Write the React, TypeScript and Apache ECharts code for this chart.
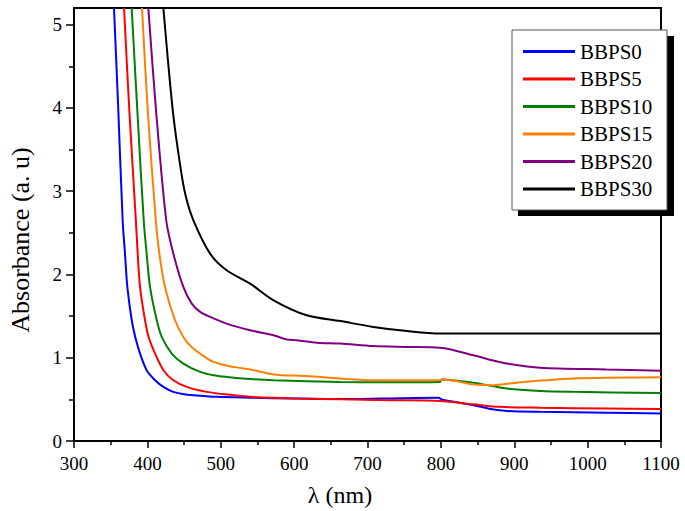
import React, { useEffect, useRef } from "react";
import * as echarts from "echarts";

const seriesNames = ["BBPS0", "BBPS5", "BBPS10", "BBPS15", "BBPS20", "BBPS30"];
const seriesColors = ["#0000FF", "#FF0000", "#008000", "#FF8000", "#800080", "#000000"];

const bbps0 = [[354.5,5.2],[360.4,3.97],[366.3,2.65],[369.5,2.25],[372.7,1.85],[378.7,1.45],[384,1.23],[390,1.05],[399,0.85],[410.5,0.73],[421.8,0.65],[435.4,0.59],[448,0.565],[462.7,0.55],[494.6,0.53],[540,0.52],[600,0.51],[663,0.504],[720,0.51],[797,0.52],[801,0.5],[844.5,0.43],[870,0.38],[890,0.36],[935.5,0.35],[1026,0.34],[1100,0.33]];
const bbps5 = [[368.2,5.2],[375.4,3.97],[384.3,2.65],[386.8,2.25],[390,1.85],[396.8,1.45],[402,1.24],[410.5,1.05],[421.8,0.85],[435.4,0.73],[453.7,0.65],[481,0.59],[517,0.55],[540,0.53],[600,0.51],[663,0.5],[730,0.49],[799,0.48],[844.5,0.44],[881,0.41],[935.5,0.4],[1026,0.39],[1100,0.385]];
const bbps10 = [[378.6,5.2],[386.3,3.97],[395,2.65],[399,2.25],[403.6,1.85],[412.8,1.45],[419.6,1.25],[433.2,1.05],[449,0.93],[471.8,0.83],[490,0.79],[508,0.77],[540,0.745],[572,0.73],[663,0.71],[720,0.705],[799,0.71],[801,0.74],[844.5,0.7],[870,0.66],[890,0.63],[935.5,0.6],[981,0.59],[1100,0.575]];
const bbps15 = [[392.7,5.2],[400.5,3.97],[411.5,2.65],[416.3,2.25],[424,1.85],[437.7,1.45],[449,1.25],[460,1.13],[471.8,1.05],[490,0.95],[517,0.89],[540,0.86],[572,0.8],[617,0.78],[663,0.75],[708,0.73],[799,0.73],[804,0.74],[844.5,0.68],[867,0.67],[913,0.71],[981,0.75],[1026,0.76],[1100,0.765]];
const bbps20 = [[401.3,5.2],[411.8,3.97],[425.7,2.65],[435.4,2.25],[449,1.85],[460.5,1.65],[472,1.55],[485.5,1.49],[508,1.41],[540,1.33],[572,1.27],[590,1.22],[604,1.21],[631,1.18],[663,1.17],[708,1.14],[754,1.13],[799,1.12],[844.5,1.03],[870,0.97],[890,0.93],[935.5,0.88],[1026,0.86],[1100,0.845]];
const bbps30 = [[421.8,5.2],[434.6,3.97],[444.7,3.31],[452,2.95],[462.7,2.65],[485.5,2.25],[508,2.05],[540,1.89],[572,1.69],[617,1.51],[663,1.44],[708,1.37],[754,1.32],[799,1.29],[1100,1.29]];
const seriesData = [bbps0, bbps5, bbps10, bbps15, bbps20, bbps30];

const yMajorTicks = [0, 1, 2, 3, 4, 5];
const yMinorTicks = [0.5, 1.5, 2.5, 3.5, 4.5];

const FONT = "Liberation Serif";

export default function App() {
  const ref = useRef<HTMLDivElement>(null);
  useEffect(() => {
    if (!ref.current) return;
    const chart = echarts.init(ref.current, null, { renderer: "svg" });
    const option: any = {
      animation: false,
      backgroundColor: "#fff",
      textStyle: { fontFamily: FONT },
      grid: {
        left: 74, right: 24, top: 8, bottom: 70,
        show: true, borderColor: "#000", borderWidth: 2, backgroundColor: "transparent",
      },
      xAxis: {
        type: "value", min: 300, max: 1100, interval: 100,
        axisLine: { show: true, lineStyle: { color: "#000", width: 2 } },
        axisTick: { show: true, length: 7, lineStyle: { color: "#000", width: 1.5 } },
        minorTick: { show: true, splitNumber: 2, length: 4, lineStyle: { color: "#000", width: 1.5 } },
        splitLine: { show: false },
        axisLabel: { color: "#000", fontFamily: FONT, fontSize: 19, margin: 13, formatter: (v: number) => String(v) },
      },
      yAxis: [
        {
          type: "value", min: 0, max: 5.2, position: "left",
          axisLine: { show: true, lineStyle: { color: "#000", width: 2 } },
          axisTick: { show: true, length: 8, customValues: yMajorTicks, lineStyle: { color: "#000", width: 1.5 } },
          splitLine: { show: false },
          axisLabel: { color: "#000", fontFamily: FONT, fontSize: 19, margin: 12, customValues: yMajorTicks, formatter: (v: number) => String(v) },
        },
        {
          type: "value", min: 0, max: 5.2, position: "left", offset: 0,
          axisLine: { show: false },
          axisTick: { show: true, length: 5, customValues: yMinorTicks, lineStyle: { color: "#000", width: 1.5 } },
          splitLine: { show: false },
          axisLabel: { show: false },
        },
      ],
      legend: {
        data: seriesNames,
        orient: "vertical",
        left: 523, top: 41,
        padding: 0,
        itemWidth: 52, itemHeight: 3, itemGap: 6.5,
        icon: "rect",
        z: 10,
        textStyle: { color: "#000", fontFamily: FONT, fontSize: 21, lineHeight: 21 },
      },
      graphic: [
        { type: "rect", z: 8, shape: { x: 518, y: 36, width: 156, height: 180 }, style: { fill: "#000" } },
        { type: "rect", z: 9, shape: { x: 512, y: 30, width: 155, height: 180 }, style: { fill: "#fff", stroke: "#555", lineWidth: 1 } },
        {
          type: "text", x: 20, y: 240, rotation: Math.PI / 2,
          style: { text: "Absorbance (a. u)", fontFamily: FONT, fontSize: 26, fill: "#000", align: "center", verticalAlign: "middle" },
        },
        {
          type: "text", x: 340, y: 495,
          style: { text: "λ (nm)", fontFamily: FONT, fontSize: 24, fill: "#000", align: "center", verticalAlign: "middle" },
        },
      ],
      series: seriesNames.map((name, i) => ({
        name,
        type: "line",
        data: seriesData[i],
        showSymbol: false,
        symbol: "none",
        smooth: 0.3,
        clip: true,
        color: seriesColors[i],
        lineStyle: { color: seriesColors[i], width: 2 },
      })),
    };
    chart.setOption(option);
    return () => chart.dispose();
  }, []);
  return (
    <div
      ref={ref}
      style={{ position: "absolute", left: 0, top: 0, width: 685, height: 511 }}
    />
  );
}
